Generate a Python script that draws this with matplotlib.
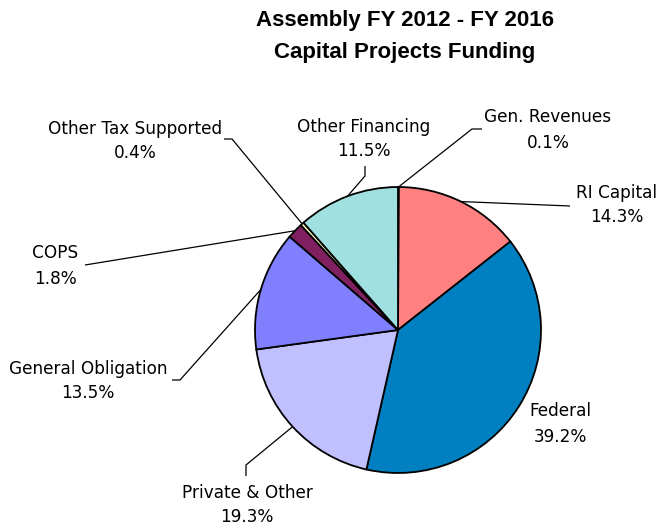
import numpy as np
import matplotlib
matplotlib.use("Agg")
import matplotlib.pyplot as plt

W, H = 659, 529
categories = ["Gen. Revenues", "RI Capital", "Federal", "Private & Other",
              "General Obligation", "COPS", "Other Tax Supported", "Other Financing"]
values = [0.1, 14.3, 39.2, 19.3, 13.5, 1.8, 0.4, 11.5]
pct_labels = ["0.1%", "14.3%", "39.2%", "19.3%", "13.5%", "1.8%", "0.4%", "11.5%"]
colors = ["#FFFFFF", "#FF8080", "#0080C0", "#C0C0FF", "#8080FF", "#802060", "#FFFFC0", "#A0E0E0"]

fig = plt.figure(figsize=(W / 100, H / 100), dpi=100)
ax = fig.add_axes([0, 0, 1, 1])

cx, cy, r = 398, H - 330, 143
wedges, _ = ax.pie(values, colors=colors, startangle=90, counterclock=False,
                   center=(cx, cy), radius=r, frame=True,
                   wedgeprops=dict(edgecolor="black", linewidth=1.3))
ax.set_xlim(0, W)
ax.set_ylim(0, H)
ax.set_aspect("equal")
ax.axis("off")

def py(y):
    return H - y

# label layout: text center (px), leader path points after edge (px)
layout = {
    "Gen. Revenues": ((548, 130), [(472, 129), (482, 129)]),
    "RI Capital": ((617, 205), [(570, 206)]),
    "Federal": ((560, 424), None),
    "Private & Other": ((247, 505), [(246, 465), (246, 476)]),
    "General Obligation": ((88, 381), [(180, 380), (172, 380)]),
    "COPS": ((55, 266), [(85, 265)]),
    "Other Tax Supported": ((135, 141), [(232, 139), (224, 139)]),
    "Other Financing": ((364, 139), [(365, 176), (365, 166)]),
}

lab_font = dict(family="DejaVu Sans", fontsize=12.2, color="black")
for w, cat, pl in zip(wedges, categories, pct_labels):
    (tx, ty), path = layout[cat]
    ax.text(tx, py(ty), f"{cat}\n{pl}", ha="center", va="center",
            linespacing=1.5, **lab_font)
    if path:
        mid = np.deg2rad((w.theta1 + w.theta2) / 2)
        ex = cx + r * np.cos(mid)
        ey = cy + r * np.sin(mid)
        xs = [ex] + [p[0] for p in path]
        ys = [ey] + [py(p[1]) for p in path]
        ax.plot(xs, ys, color="black", lw=0.9, zorder=0.5, solid_capstyle="butt")

fig.text(405 / W, 1 - 36.5 / H, "Assembly FY 2012 - FY 2016\nCapital Projects Funding",
         ha="center", va="center", fontsize=16, fontweight="bold",
         family=["Liberation Sans", "DejaVu Sans"], linespacing=1.65)

fig.savefig("out.png", dpi=100, facecolor="white")
